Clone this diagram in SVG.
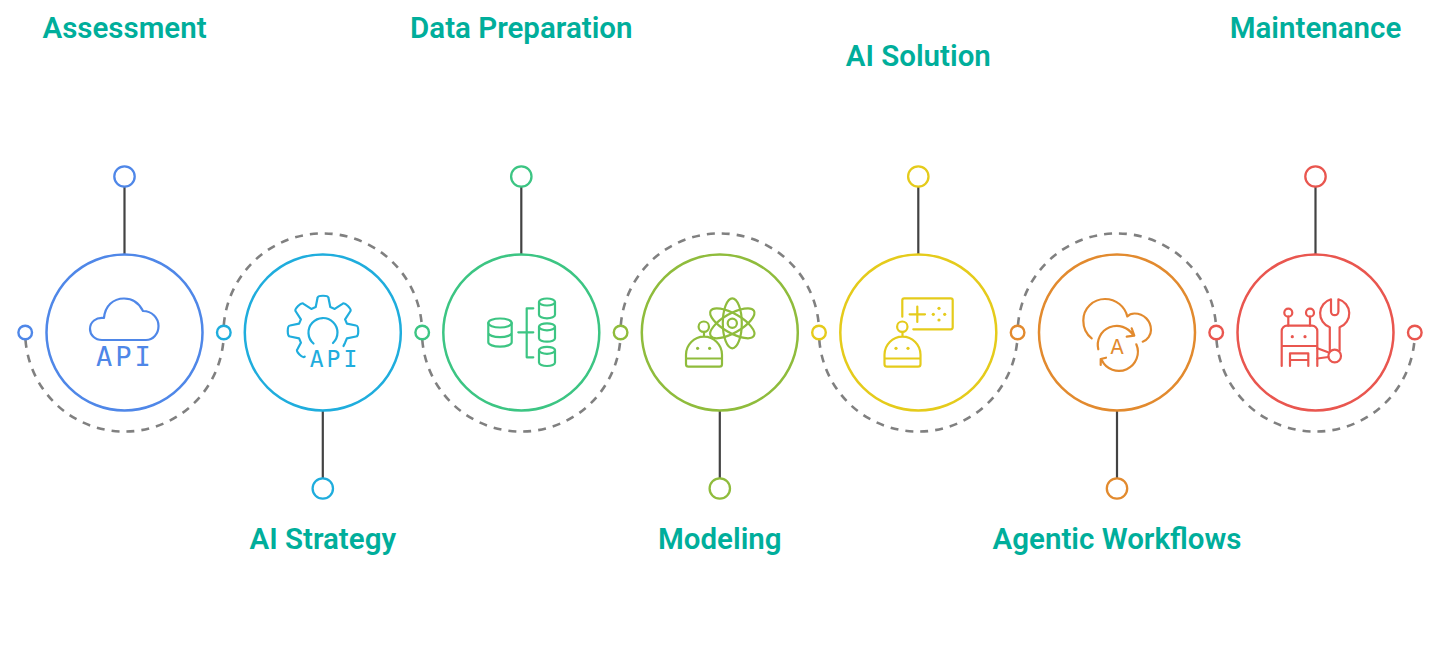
<svg xmlns="http://www.w3.org/2000/svg" width="1440" height="659" viewBox="0 0 1440 659">
<style>
.t{font-family:Roboto,"Liberation Sans",sans-serif;font-weight:600;font-size:29.5px;fill:#00AE9B;text-anchor:middle}
.big{fill:none;stroke-width:2.5}
.dot{fill:#fff;stroke-width:2.4}
.pin{fill:#fff;stroke-width:2.3}
.ic{fill:none;stroke-width:2.2;stroke-linecap:round;stroke-linejoin:round}
.api{font-family:"DejaVu Sans Mono",monospace;text-anchor:middle}
.stem{stroke:#434343;stroke-width:2.2;fill:none}
.dash{stroke:#808080;stroke-width:2.6;fill:none;stroke-dasharray:8 7}
.blue{stroke:#4F87E8}.cyan{stroke:#1FADDD}.green{stroke:#3CC583}.olive{stroke:#8FBC3C}.yellow{stroke:#E5CB1B}.orange{stroke:#E28A2E}.red{stroke:#E9564F}
</style>
<defs>
<g id="bot"><path d="M686 358.5V354.7A18 18 0 0 1 722 354.7V364.2Q722 366.7 719.5 366.7H688.5Q686 366.7 686 364.2ZM686 358.5H722M704 336.7V332"/><circle cx="703.8" cy="326.7" r="5.2"/></g>
</defs>
<g id="connectors">
<path class="stem" d="M124.5 187V254M521.3 187V254M918.3 187V254M1315.5 187V254M322.8 411V478M719.8 411V478M1117 411V478"/>
<path class="dash" d="M25.5 340A99.3 99.3 0 0 0 223.5 340"/>
<path class="dash" d="M223.8 325A99.3 99.3 0 0 1 421.8 325"/>
<path class="dash" d="M422.3 340A99.3 99.3 0 0 0 620.3 340"/>
<path class="dash" d="M620.8 325A99.3 99.3 0 0 1 818.8 325"/>
<path class="dash" d="M819.3 340A99.3 99.3 0 0 0 1017.3 340"/>
<path class="dash" d="M1018 325A99.3 99.3 0 0 1 1216 325"/>
<path class="dash" d="M1216.5 340A99.3 99.3 0 0 0 1414.5 340"/>
</g>
<g id="node-assessment">
<text class="t" x="124.5" y="38">Assessment</text>
<circle class="pin blue" cx="124.5" cy="176.5" r="10.2"/>
<circle class="dot blue" cx="25.2" cy="332.5" r="6.8"/>
<circle class="big blue" cx="124.5" cy="332.5" r="78"/>
<g class="ic blue"><path d="M102 340H146C153 340 158.5 334 158.5 326C158.5 318 152 311 143 311C139 303 132 298.5 124 298.5C113 298.5 105 306 104 318C96 317 90 322 90 329C90 335 95 340 102 340Z"/></g>
<text class="api" x="125" y="366" font-size="27" letter-spacing="3" fill="#4F87E8">API</text>
</g>
<g id="node-ai-strategy">
<text class="t" x="322.8" y="549">AI Strategy</text>
<circle class="pin cyan" cx="322.8" cy="488.5" r="10.2"/>
<circle class="dot cyan" cx="223.8" cy="332.5" r="6.8"/>
<circle class="big cyan" cx="322.8" cy="332.5" r="78"/>
<g class="ic cyan"><path d="M304.7 356.6C302.6 358.7 295.3 351.4 297.4 349.3L300.9 342.7L299.1 338.3L290 336.5C287 336.5 287 325.5 290 325.5L299.1 323.7L300.9 319.3L295.8 311.5C293.7 309.4 301.4 301.7 303.5 303.8L311.3 308.9L315.7 307.1L317.5 298C317.5 295 328.5 295 328.5 298L330.3 307.1L334.7 308.9L342.5 303.8C344.6 301.7 352.3 309.4 350.2 311.5L345.1 319.3L346.9 323.7L356 325.5C359 325.5 359 336.5 356 336.5L346.9 338.3L345.1 342.7L343.5 346"/><path d="M313.5 343.5A14.5 14.5 0 1 1 333 343"/></g>
<text class="api" x="335" y="367" font-size="23" letter-spacing="3" fill="#1FADDD">API</text>
</g>
<g id="node-data-preparation">
<text class="t" x="521.3" y="38">Data Preparation</text>
<circle class="pin green" cx="521.3" cy="176.5" r="10.2"/>
<circle class="dot green" cx="422.2" cy="332.5" r="6.8"/>
<circle class="big green" cx="521.3" cy="332.5" r="78"/>
<g class="ic green"><ellipse cx="500" cy="323" rx="11.7" ry="4.5"/><path d="M488.3 323V342.2C488.3 344.7 493.5 346.7 500 346.7S511.7 344.7 511.7 342.2V323M488.3 332.7C488.3 335.2 493.5 337.2 500 337.2S511.7 335.2 511.7 332.7"/>
<ellipse cx="547" cy="302" rx="8" ry="3.5"/><path d="M539 302V314.8C539 316.8 542.5 318.3 547 318.3S555 316.8 555 314.8V302"/>
<ellipse cx="547" cy="326.8" rx="8" ry="3.5"/><path d="M539 326.8V338.2C539 340.2 542.5 341.7 547 341.7S555 340.2 555 338.2V326.8"/>
<ellipse cx="547" cy="350.3" rx="8" ry="3.5"/><path d="M539 350.3V362.5C539 364.5 542.5 366 547 366S555 364.5 555 362.5V350.3"/>
<path d="M533.3 308.3H526.7V357.3H533.3M518.3 332.3H533.3"/></g>
</g>
<g id="node-modeling">
<text class="t" x="719.8" y="549">Modeling</text>
<circle class="pin olive" cx="719.8" cy="488.5" r="10.2"/>
<circle class="dot olive" cx="620.6" cy="332.5" r="6.8"/>
<circle class="big olive" cx="719.8" cy="332.5" r="78"/>
<g class="ic olive"><use href="#bot"/><circle cx="732.3" cy="323.3" r="4.6"/><ellipse cx="732.3" cy="323.3" rx="9.5" ry="25"/><ellipse cx="732.3" cy="323.3" rx="9.5" ry="25" transform="rotate(60 732.3 323.3)"/><ellipse cx="732.3" cy="323.3" rx="9.5" ry="25" transform="rotate(-60 732.3 323.3)"/></g>
<g fill="#8FBC3C"><circle cx="697.6" cy="348.3" r="1.6"/><circle cx="709.6" cy="348.3" r="1.6"/></g>
</g>
<g id="node-ai-solution">
<text class="t" x="918.3" y="66">AI Solution</text>
<circle class="pin yellow" cx="918.3" cy="176.5" r="10.2"/>
<circle class="dot yellow" cx="819" cy="332.5" r="6.8"/>
<circle class="big yellow" cx="918.3" cy="332.5" r="78"/>
<g class="ic yellow"><use href="#bot" x="198.5"/><path d="M902.3 316.7V300.3Q902.3 298.3 904.3 298.3H950.7Q952.7 298.3 952.7 300.3V327.3Q952.7 329.3 950.7 329.3H913.3M917.3 306.6V322M909.6 314.3H925"/></g>
<g fill="#E5CB1B"><circle cx="933.3" cy="314.3" r="1.6"/><circle cx="944.7" cy="314.3" r="1.6"/><circle cx="939" cy="308.3" r="1.6"/><circle cx="939" cy="320" r="1.6"/><circle cx="896" cy="348.3" r="1.6"/><circle cx="908" cy="348.3" r="1.6"/></g>
</g>
<g id="node-agentic-workflows">
<text class="t" x="1117" y="549">Agentic Workflows</text>
<circle class="pin orange" cx="1117" cy="488.5" r="10.2"/>
<circle class="dot orange" cx="1017.6" cy="332.5" r="6.8"/>
<circle class="big orange" cx="1117" cy="332.5" r="78"/>
<g class="ic orange"><path d="M1091.7 338.3C1086 334 1083.3 327 1083.3 320.5C1083.3 308.5 1093 299 1105 299C1116 299 1125 306.5 1127.3 316.5C1129 314.5 1131.5 313.5 1134.5 313.5C1144 313.5 1151 321 1151 330C1151 335 1147.5 340 1142.7 341.7"/><path d="M1098.3 349.3A19 19 0 0 1 1133 335M1131.7 328.3L1134.3 335.7L1126.7 336.7"/><path d="M1136.3 344.3A19 19 0 0 1 1101.7 360M1106 357.7L1100.7 359L1100.7 365"/></g>
<text x="1117" y="353.5" font-family="Inter,Roboto,sans-serif" font-weight="400" font-size="20.5" text-anchor="middle" fill="#E28A2E">A</text>
</g>
<g id="node-maintenance">
<text class="t" x="1315.5" y="38">Maintenance</text>
<circle class="pin red" cx="1315.5" cy="176.5" r="10.2"/>
<circle class="dot red" cx="1216.2" cy="332.5" r="6.8"/>
<circle class="dot red" cx="1414.8" cy="332.5" r="6.8"/>
<circle class="big red" cx="1315.5" cy="332.5" r="78"/>
<g class="ic red"><path d="M1281.7 366V331A5.3 5.3 0 0 1 1287 325.7H1312A5.3 5.3 0 0 1 1317.3 331V366M1281.7 346H1317.3M1290 366V353.3H1308.3V366M1290 360H1308.3"/><circle cx="1288.3" cy="312.7" r="4"/><circle cx="1310" cy="312.7" r="4"/><path d="M1288.3 316.7V325.7M1310 316.7V325.7"/><path d="M1329.8 350.5V327.3A14.7 14.7 0 0 1 1331 299.3V311.5A3.7 3.7 0 0 0 1338.4 311.5V299.3A14.7 14.7 0 0 1 1339.6 327.3V350.5"/><circle cx="1334.7" cy="356" r="6.3"/><path d="M1317.3 348.3L1328.8 352.5M1317.3 358.5L1328.5 357"/></g>
<g fill="#E9564F"><circle cx="1292.3" cy="336.7" r="1.6"/><circle cx="1305" cy="336.7" r="1.6"/></g>
</g>
</svg>
